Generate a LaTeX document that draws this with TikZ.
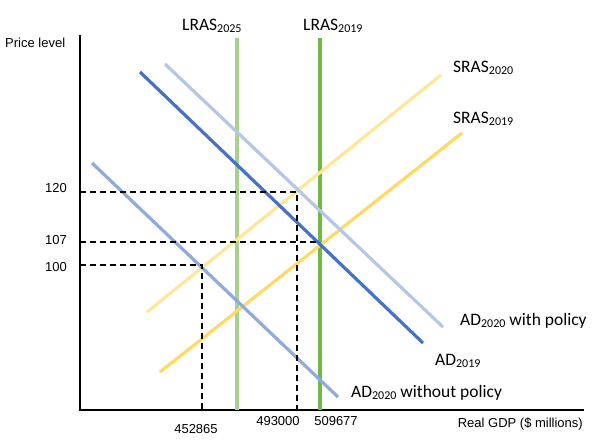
\documentclass[tikz,border=0pt]{standalone}
\usepackage{fontspec}
\setmainfont{Liberation Sans}
\newfontfamily\lblfont{Carlito}
\definecolor{adold}{HTML}{4472C4}
\definecolor{adwith}{HTML}{B4C7E7}
\definecolor{adwithout}{HTML}{8FAADC}
\definecolor{lrasnew}{HTML}{A9D18E}
\definecolor{lrasold}{HTML}{6DBB45}
\definecolor{srasnew}{HTML}{FFE699}
\definecolor{srasold}{HTML}{FFD966}
\tikzset{
  curve/.style={line width=3.2pt},
  guide/.style={line width=1.4pt, dash pattern=on 6pt off 4pt},
  axis/.style={line width=1.2pt},
  lbl/.style={inner sep=0pt, font=\lblfont\fontsize{17.5}{20}\selectfont},
  axlbl/.style={inner sep=0pt, font=\fontsize{13}{15}\selectfont},
}
\newcommand{\sbs}[1]{\raisebox{-2.5pt}{\fontsize{12}{12}\selectfont #1}}
\begin{document}
\begin{tikzpicture}[x=1pt,y=-1pt]
\useasboundingbox (0,0) rectangle (601,442);
% axes
\coordinate (o) at (80,410);
\coordinate (ytop) at (80,35);
\coordinate (xend) at (584,410);
\draw[axis] (ytop) -- (o) -- (xend);
% LRAS
\coordinate (l25t) at (237,38); \coordinate (l25b) at (237,410);
\coordinate (l19t) at (320,38); \coordinate (l19b) at (320,410);
\draw[curve, lrasnew] (l25t) -- (l25b);
\draw[curve, lrasold] (l19t) -- (l19b);
% SRAS
\coordinate (s20a) at (147,312); \coordinate (s20b) at (441,75);
\coordinate (s19a) at (160,372); \coordinate (s19b) at (462,133);
\draw[curve, srasnew] (s20a) -- (s20b);
\draw[curve, srasold] (s19a) -- (s19b);
% AD
\coordinate (awa) at (165,64); \coordinate (awb) at (443,327);
\coordinate (aoa) at (140,72); \coordinate (aob) at (423,343);
\coordinate (ana) at (92,163); \coordinate (anb) at (338,397);
\draw[curve, adwith] (awa) -- (awb);
\draw[curve, adold] (aoa) -- (aob);
\draw[curve, adwithout] (ana) -- (anb);
% guides
\coordinate (g120l) at (80,192); \coordinate (g120r) at (297,192); \coordinate (g120b) at (297,410);
\coordinate (g107l) at (80,242); \coordinate (g107r) at (320,242);
\coordinate (g100l) at (80,265); \coordinate (g100r) at (202,265); \coordinate (g100b) at (202,410);
\draw[guide] (g120l) -- (g120r) -- (g120b);
\draw[guide] (g107l) -- (g107r);
\draw[guide] (g100l) -- (g100r) -- (g100b);
% labels
\node[axlbl, anchor=base west] (pl) at (5,47) {Price level};
\node[axlbl, anchor=base east] (p120) at (67,192) {120};
\node[axlbl, anchor=base east] (p107) at (67,244) {107};
\node[axlbl, anchor=base east] (p100) at (67,271) {100};
\node[axlbl, anchor=base] (q1) at (196,433) {452865};
\node[axlbl, anchor=base] (q2) at (278,425) {493000};
\node[axlbl, anchor=base] (q3) at (336,425) {509677};
\node[axlbl, anchor=base east] (xl) at (583,427) {Real GDP (\$ millions)};
\node[lbl, anchor=base west] (ll25) at (182,30) {LRAS\sbs{2025}};
\node[lbl, anchor=base west] (ll19) at (303,30) {LRAS\sbs{2019}};
\node[lbl, anchor=base west] (ls20) at (453,72) {SRAS\sbs{2020}};
\node[lbl, anchor=base west] (ls19) at (453,123) {SRAS\sbs{2019}};
\node[lbl, anchor=base west] (law) at (460,325) {AD\sbs{2020} with policy};
\node[lbl, anchor=base west] (lao) at (435,365) {AD\sbs{2019}};
\node[lbl, anchor=base west] (lan) at (351,397) {AD\sbs{2020} without policy};
\end{tikzpicture}
\end{document}
